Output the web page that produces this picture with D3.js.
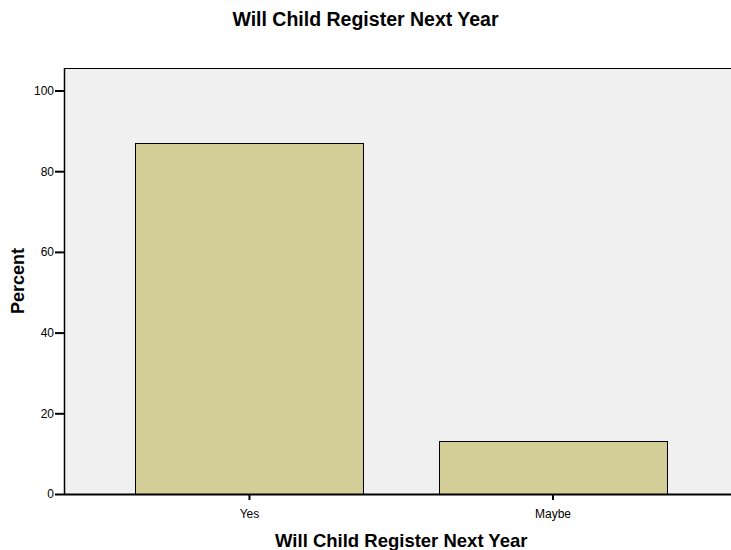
<!DOCTYPE html>
<html>
<head>
<meta charset="utf-8">
<script src="https://cdn.jsdelivr.net/npm/d3@7"></script>
<style>
  html, body { margin: 0; padding: 0; background: #fff; overflow: hidden; }
  text { font-family: Arial, "Liberation Sans", sans-serif; }
</style>
</head>
<body>
<svg id="chart" width="731" height="550"></svg>
<script>
const categories = ["Yes", "Maybe"];
const percentValues = [87.0, 13.2];
const yTicks = [0, 20, 40, 60, 80, 100];
const chartTitle = "Will Child Register Next Year";
const xTitle = "Will Child Register Next Year";
const yTitle = "Percent";

const svg = d3.select("#chart");
const pLeft = 64, pRight = 738.5, pTop = 68, pBottom = 494;

const x = d3.scaleBand().domain(categories).range([pLeft, pRight])
  .paddingInner(0.25).paddingOuter(0.236);
const y = d3.scaleLinear().domain([0, 100]).range([pBottom, pBottom - 403.5]);

// plot background
svg.append("rect")
  .attr("x", pLeft).attr("y", pTop)
  .attr("width", pRight - pLeft).attr("height", pBottom - pTop)
  .attr("fill", "#f0f0f0");

// bars
svg.selectAll("rect.bar").data(categories).enter().append("rect")
  .attr("class", "bar")
  .attr("x", d => Math.floor(x(d)) + 0.5)
  .attr("y", (d, i) => Math.round(y(percentValues[i])) + 0.5)
  .attr("width", Math.round(x.bandwidth()))
  .attr("height", (d, i) => pBottom - Math.round(y(percentValues[i])))
  .attr("fill", "#d3ce97")
  .attr("stroke", "#000")
  .attr("stroke-width", 1);

// frame top line
svg.append("line").attr("x1", pLeft).attr("x2", pRight).attr("y1", pTop + 0.5).attr("y2", pTop + 0.5)
  .attr("stroke", "#000").attr("stroke-width", 1);

// y axis
const yAxis = d3.axisLeft(y).tickValues(yTicks).tickSize(9).tickPadding(1).tickFormat(d3.format("d"));
const yg = svg.append("g").attr("transform", `translate(${pLeft},0)`).call(yAxis);
yg.select(".domain").attr("d", `M0.5,${pTop}V${pBottom + 1}`).attr("stroke-width", 1.5);
yg.selectAll(".tick line").attr("stroke-width", 2);
yg.selectAll(".tick text").attr("font-size", 12).attr("fill", "#000")
  .attr("font-family", "Arial, 'Liberation Sans', sans-serif");

// x axis
const xAxis = d3.axisBottom(x).tickSize(6).tickPadding(9);
const xg = svg.append("g").attr("transform", `translate(0,${pBottom})`).call(xAxis);
xg.select(".domain").attr("d", `M${pLeft},0.5H${pRight}`).attr("stroke-width", 2);
xg.selectAll(".tick line").attr("stroke-width", 2);
xg.selectAll(".tick text").attr("font-size", 12).attr("fill", "#000")
  .attr("font-family", "Arial, 'Liberation Sans', sans-serif");

// titles
svg.append("text").attr("x", 365.5).attr("y", 26).attr("text-anchor", "middle")
  .attr("font-size", 19.5).attr("font-weight", "bold").text(chartTitle);
svg.append("text").attr("x", (pLeft + pRight) / 2).attr("y", 547).attr("text-anchor", "middle")
  .attr("font-size", 18.5).attr("font-weight", "bold").text(xTitle);
svg.append("text").attr("transform", `translate(24,${(pTop + pBottom) / 2}) rotate(-90)`)
  .attr("text-anchor", "middle").attr("font-size", 18).attr("font-weight", "bold").text(yTitle);
</script>
</body>
</html>
